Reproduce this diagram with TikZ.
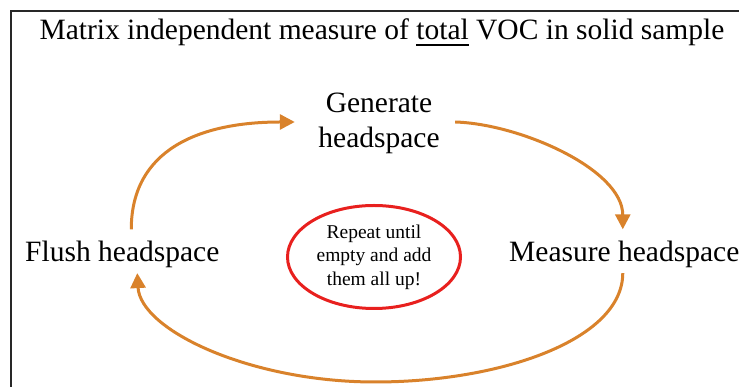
\documentclass[tikz,border=0pt]{standalone}
\usepackage{fontspec}
\setmainfont{Liberation Serif}
\usetikzlibrary{arrows.meta,shapes.geometric,calc}
\definecolor{cycleorange}{RGB}{217,130,43}
\definecolor{notered}{RGB}{232,32,30}
\definecolor{framegray}{RGB}{40,40,40}
% underline with a fixed depth and thickness
\newcommand{\ulword}[1]{\setbox0\hbox{#1}\rlap{\rule[-6.4pt]{\wd0}{1.4pt}}#1}
\begin{document}
\begin{tikzpicture}[x=1pt,y=1pt,
  label/.style={inner sep=0pt,font=\fontsize{29.5}{35}\selectfont},
  flow/.style={draw=cycleorange,line width=3pt,
    -{Triangle[length=15pt,width=15pt]}},
  note/.style={ellipse,draw=notered,line width=3pt,inner sep=0pt,
    minimum width=173pt,minimum height=103pt,align=center,
    font=\fontsize{19.5}{23.5}\selectfont}]
  \useasboundingbox (0,0) rectangle (739,387);
  % open frame: top and left edges
  \draw[framegray,line width=1.4pt] (739,376) -- (11,376) -- (11,0);
  % heading
  \node[label,anchor=base] (title) at (382,347.7)
    {Matrix independent measure of \ulword{total} VOC in solid sample};
  % the three steps of the cycle
  \node[label,align=center] (gen) at (379,263.3) {Generate\\headspace};
  \node[label,anchor=base west] (flush) at (25,125) {Flush headspace};
  \node[label,anchor=base west] (meas) at (509,125) {Measure headspace};
  % central remark
  \node[note] (rep) at (374,130) {Repeat until\\empty and add\\them all up!};
  % cycle connectors
  \draw[flow] ([shift={(9,12)}]flush.north)
    .. controls +(0,80) and +(-95,0) .. ([shift={(-23.4,1.7)}]gen.west);
  \draw[flow] ([shift={(15.4,1.7)}]gen.east)
    .. controls +(65,-2) and +(0,60) .. ([shift={(-1.5,12)}]meas.north);
  \draw[flow] ([shift={(-1.5,-4.6)}]meas.south)
    .. controls +(0,-67) and +(125,0) .. (375,5)
    .. controls +(-125,0) and +(3,-57) .. ([shift={(15,-4.6)}]flush.south);
\end{tikzpicture}
\end{document}
